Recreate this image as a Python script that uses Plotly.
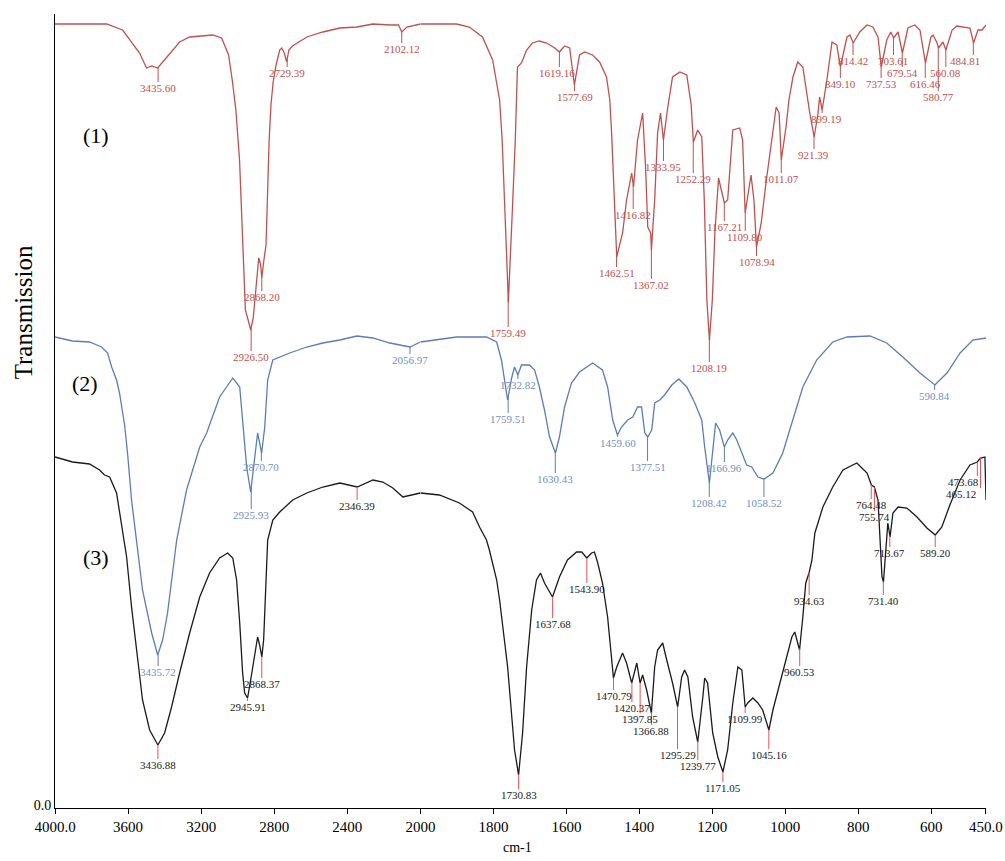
import numpy as np
import plotly.graph_objects as go

# ---------------- data (wavenumber cm-1, transmission in arbitrary units) ----------------
wn1 = [4000, 3718, 3630, 3537, 3499, 3471, 3438, 3389, 3318, 3263, 3137, 3088, 3050, 3030, 3010,
       2990, 2975, 2958, 2940, 2929, 2915, 2900, 2885, 2875, 2868, 2858, 2845, 2836, 2828, 2818,
       2806, 2790, 2770, 2759, 2745, 2732, 2720, 2700, 2622, 2534, 2441, 2348, 2260, 2167, 2120,
       2102, 2074, 2000, 1901, 1866, 1830, 1802, 1783, 1776, 1768, 1764, 1759, 1754, 1748, 1740,
       1734, 1723, 1709, 1693, 1674, 1654, 1632, 1619, 1605, 1591, 1578, 1564, 1550, 1528, 1509,
       1490, 1481, 1476, 1470, 1462, 1446, 1435, 1421, 1416, 1405, 1391, 1383, 1377, 1369, 1367,
       1358, 1350, 1342, 1334, 1322, 1316, 1309, 1289, 1270, 1258, 1252, 1240, 1229, 1222, 1215,
       1208, 1200, 1193, 1183, 1167, 1158, 1144, 1125, 1117, 1110, 1094, 1086, 1079, 1066, 1053,
       1045, 1025, 1017, 1011, 998, 990, 979, 966, 952, 933, 921, 911, 906, 899, 886,
       872, 859, 849, 831, 823, 814, 796, 776, 760, 746, 737, 722, 711, 703, 691,
       679, 664, 645, 631, 616, 601, 595, 584, 580, 568, 560, 543, 530, 502, 494,
       484, 472, 461, 450]
t1 = [781, 781, 775, 752, 737, 739, 737, 748, 763, 768, 770, 767, 750, 725, 695,
      645, 565, 495, 483, 475, 487, 515, 547, 541, 527, 543, 560, 615, 665, 700,
      723, 740, 755, 757, 752, 743, 755, 759, 768, 773, 777, 778, 781, 780, 780,
      773, 778, 781, 781, 778, 768, 745, 705, 665, 600, 552, 503, 540, 595, 665,
      738, 742, 755, 762, 764, 762, 757, 753, 759, 757, 720, 750, 753, 750, 743,
      728, 705, 672, 625, 548, 572, 605, 632, 618, 665, 692, 638, 578, 572, 555,
      605, 672, 692, 665, 698, 712, 728, 733, 730, 700, 663, 675, 668, 605, 505,
      465, 505, 572, 627, 602, 605, 675, 677, 665, 592, 630, 605, 558, 582, 622,
      645, 698, 692, 645, 678, 705, 728, 743, 738, 692, 668, 690, 708, 695, 725,
      763, 760, 738, 768, 770, 762, 773, 780, 778, 768, 738, 765, 773, 767, 773,
      752, 777, 780, 775, 742, 768, 770, 762, 757, 763, 755, 775, 779, 778, 777,
      762, 775, 775, 780]

wn2 = [4000, 3904, 3811, 3745, 3712, 3690, 3663, 3647, 3619, 3603, 3581, 3553, 3521, 3471, 3438,
       3411, 3384, 3334, 3280, 3208, 3170, 3099, 3027, 2989, 2973, 2951, 2929, 2907, 2891, 2869,
       2852, 2836, 2808, 2715, 2622, 2534, 2441, 2348, 2260, 2167, 2058, 2000, 1901, 1819, 1791,
       1778, 1770, 1761, 1750, 1742, 1733, 1723, 1701, 1687, 1674, 1660, 1646, 1630, 1619, 1605,
       1586, 1564, 1528, 1501, 1487, 1473, 1460, 1449, 1432, 1418, 1405, 1394, 1385, 1377, 1366,
       1358, 1344, 1331, 1311, 1292, 1270, 1248, 1229, 1221, 1208, 1199, 1191, 1180, 1167, 1158,
       1144, 1133, 1119, 1106, 1092, 1075, 1058, 1034, 1007, 979, 952, 914, 870, 831, 768,
       722, 678, 631, 590, 557, 521, 486, 458, 450]
t2 = [468, 464, 463, 458, 452, 438, 425, 412, 380, 352, 305, 265, 215, 172, 150,
      165, 192, 265, 315, 358, 372, 408, 427, 418, 385, 338, 313, 345, 372, 352,
      378, 425, 445, 452, 458, 462, 465, 469, 467, 462, 458, 463, 468, 468, 463,
      445, 425, 405, 427, 438, 430, 440, 440, 435, 418, 395, 368, 352, 368, 398,
      422, 433, 442, 435, 418, 385, 370, 378, 385, 388, 398, 398, 372, 368, 375,
      402, 405, 410, 420, 426, 418, 402, 385, 358, 322, 358, 382, 375, 358, 365,
      372, 365, 352, 340, 338, 328, 326, 332, 352, 385, 418, 445, 463, 468, 469,
      462, 448, 432, 420, 432, 452, 465, 467, 467]

wn3 = [4000, 3904, 3811, 3756, 3729, 3701, 3663, 3636, 3608, 3581, 3553, 3521, 3482, 3437, 3400,
       3362, 3318, 3263, 3208, 3154, 3099, 3055, 3027, 3006, 2989, 2973, 2962, 2946, 2929, 2907,
       2891, 2880, 2868, 2858, 2847, 2836, 2808, 2770, 2699, 2622, 2534, 2441, 2346, 2260, 2206,
       2151, 2096, 2000, 1948, 1893, 1857, 1838, 1819, 1811, 1791, 1783, 1761, 1742, 1731, 1720,
       1709, 1695, 1682, 1671, 1660, 1638, 1619, 1597, 1572, 1558, 1544, 1531, 1523, 1514, 1501,
       1487, 1476, 1471, 1462, 1446, 1435, 1421, 1407, 1398, 1391, 1380, 1367, 1358, 1350, 1336,
       1325, 1309, 1295, 1284, 1276, 1267, 1254, 1240, 1226, 1221, 1213, 1199, 1185, 1171, 1158,
       1144, 1130, 1119, 1110, 1103, 1089, 1075, 1062, 1045, 1034, 1015, 996, 982, 974, 961,
       952, 944, 935, 927, 919, 897, 870, 842, 804, 776, 764, 756, 746, 741, 735,
       731, 724, 719, 713, 705, 691, 667, 639, 612, 589, 571, 549, 521, 494, 474,
       465, 453, 450]
t3 = [348, 343, 341, 335, 330, 328, 312, 282, 248, 198, 152, 105, 75, 60, 72,
      98, 132, 172, 208, 232, 247, 252, 247, 225, 182, 132, 112, 107, 125, 148,
      168, 160, 148, 165, 215, 265, 285, 293, 305, 312, 318, 322, 318, 325, 323,
      317, 308, 312, 310, 302, 293, 278, 265, 255, 225, 205, 138, 55, 30, 72,
      138, 195, 225, 232, 222, 208, 228, 245, 253, 253, 247, 252, 253, 242, 222,
      188, 142, 127, 138, 152, 142, 122, 142, 122, 130, 115, 92, 138, 155, 162,
      145, 122, 98, 128, 135, 128, 88, 63, 108, 127, 122, 72, 48, 33, 55,
      102, 138, 135, 98, 102, 107, 102, 95, 75, 95, 122, 148, 168, 173, 155,
      188, 222, 232, 245, 272, 298, 318, 335, 342, 332, 320, 318, 305, 272, 228,
      223, 255, 282, 268, 292, 298, 297, 288, 277, 270, 278, 300, 325, 340, 343,
      347, 348, 305]

# peak labels: wavenumber, label vertical position, horizontal nudge (px)
pk1 = [3435.60, 2926.50, 2868.20, 2729.39, 2102.12, 1759.49, 1619.16, 1577.69, 1462.51, 1416.82,
       1367.02, 1333.95, 1252.29, 1208.19, 1167.21, 1109.80, 1078.94, 1011.07, 921.39, 899.19,
       849.10, 814.42, 737.53, 703.61, 679.54, 616.46, 580.77, 560.08, 484.81]
lab1 = [717, 448, 508, 732, 756, 472, 732, 708, 532, 590,
        520, 638, 626, 437, 578, 568, 543, 626, 650, 686,
        721, 744, 721, 744, 732, 721, 708, 732, 744]
dx1 = [0, 0, 0, 0, 0, 0, -2, 0, 0, 0,
       0, 0, 0, 0, 0, 0, 0, 0, 0, 4,
       0, 0, 0, 0, 0, 0, 0, 0, -8]

pk2 = [3435.72, 2925.93, 2870.70, 2056.97, 1759.51, 1732.82, 1630.43, 1459.60, 1377.51, 1208.42,
       1166.96, 1058.52, 590.84]
lab2 = [133, 290, 338, 445, 386, 420, 326, 362, 338, 302, 337, 302, 409]
dx2 = [0] * 13

pk3 = [3436.88, 2945.91, 2868.37, 2346.39, 1730.83, 1637.68, 1543.90, 1470.79, 1420.37, 1397.85,
       1366.88, 1295.29, 1239.77, 1171.05, 1109.99, 1045.16, 960.53, 934.63, 764.48, 755.74,
       731.40, 713.67, 589.20, 473.68, 465.12]
lab3 = [40, 98, 121, 299, 10, 181, 216, 109, 97, 86,
        74, 50, 39, 17, 86, 50, 133, 204, 300, 288,
        204, 252, 252, 323, 311]
dx3 = [0] * 23 + [-14, -19]

xticks_left = [4000, 3600, 3200, 2800, 2400, 2000]
xticks_left_txt = ["4000.0", "3600", "3200", "2800", "2400", "2000"]
xticks_right = [1800, 1600, 1400, 1200, 1000, 800, 600, 450]
xticks_right_txt = ["1800", "1600", "1400", "1200", "1000", "800", "600", "450.0"]

RED = "#C0504D"
BLUE = "#5B7DB5"
BLUE_TXT = "#6F8FC4"
BLACK = "#1A1A1A"
TICK3 = "#E8505A"

SERIF = "Liberation Serif"
SPLIT = 2000

fig = go.Figure()


def add_series(wn, t, color):
    wn = np.asarray(wn, float)
    t = np.asarray(t, float)
    left = wn >= SPLIT
    right = wn <= SPLIT
    fig.add_trace(go.Scatter(x=wn[left], y=t[left], mode="lines", xaxis="x", yaxis="y",
                             line=dict(color=color, width=1.3), hoverinfo="skip"))
    fig.add_trace(go.Scatter(x=wn[right], y=t[right], mode="lines", xaxis="x2", yaxis="y",
                             line=dict(color=color, width=1.3), hoverinfo="skip"))


def add_peaks(wn, t, peaks, labs, dxs, tick_color, text_color):
    wn = np.asarray(wn, float)
    t = np.asarray(t, float)
    lx, ly, rx, ry = [], [], [], []
    for p, lab, dx in zip(peaks, labs, dxs):
        top = float(np.interp(p, wn[::-1], t[::-1]))
        bottom = lab + 6
        if top > bottom:
            if p >= SPLIT:
                lx += [p, p, None]; ly += [top, bottom, None]
            else:
                rx += [p, p, None]; ry += [top, bottom, None]
        fig.add_annotation(x=p, y=lab, xref="x" if p >= SPLIT else "x2", yref="y",
                           text=f"{p:.2f}", showarrow=False, xshift=dx,
                           font=dict(family=SERIF, size=11, color=text_color))
    if lx:
        fig.add_trace(go.Scatter(x=lx, y=ly, mode="lines", xaxis="x", yaxis="y",
                                 line=dict(color=tick_color, width=1), hoverinfo="skip"))
    if rx:
        fig.add_trace(go.Scatter(x=rx, y=ry, mode="lines", xaxis="x2", yaxis="y",
                                 line=dict(color=tick_color, width=1), hoverinfo="skip"))


add_series(wn1, t1, RED)
add_series(wn2, t2, BLUE)
add_series(wn3, t3, BLACK)
add_peaks(wn1, t1, pk1, lab1, dx1, RED, RED)
add_peaks(wn2, t2, pk2, lab2, dx2, BLUE, BLUE_TXT)
add_peaks(wn3, t3, pk3, lab3, dx3, TICK3, BLACK)

# series tags
for txt, x, y in [("(1)", 3773, 670), ("(2)", 3838, 422), ("(3)", 3773, 248)]:
    fig.add_annotation(x=x, y=y, xref="x", yref="y", text=txt, showarrow=False,
                       font=dict(family=SERIF, size=22, color="black"))

fig.add_annotation(x=-0.034, y=493, xref="paper", yref="y", text="Transmission",
                   textangle=-90, showarrow=False, xanchor="center", yanchor="middle",
                   font=dict(family=SERIF, size=25, color="black"))
fig.add_annotation(x=1734, y=-0.05, xref="x2", yref="paper", text="cm-1",
                   showarrow=False, xanchor="center", yanchor="middle",
                   font=dict(family=SERIF, size=14, color="black"))

D = 0.3925
axis_common = dict(showline=True, linecolor="black", linewidth=1, ticks="outside",
                   ticklen=5, tickcolor="black", showgrid=False, zeroline=False,
                   automargin=False,
                   tickfont=dict(family=SERIF, size=15, color="black"), anchor="y")
fig.update_layout(
    width=1005, height=861,
    margin=dict(l=55, r=19, t=14, b=53),
    paper_bgcolor="white", plot_bgcolor="white",
    showlegend=False,
    xaxis=dict(domain=[0, D], range=[4000, SPLIT], tickmode="array",
               tickvals=xticks_left, ticktext=xticks_left_txt, **axis_common),
    xaxis2=dict(domain=[D, 1], range=[SPLIT, 450], tickmode="array",
                tickvals=xticks_right, ticktext=xticks_right_txt, **axis_common),
    yaxis=dict(range=[-3, 791], tickmode="array", tickvals=[0], ticktext=["0.0"],
               showline=True, linecolor="black", linewidth=1, ticks="",
               showgrid=False, zeroline=False, automargin=False,
               tickfont=dict(family=SERIF, size=14, color="black")),
)

# remove the browser's default 8 px body margin so the figure fills the window exactly
fig.write_html("out.html",
               config={"displayModeBar": False},
               post_script="document.body.style.margin='0px';document.body.style.overflow='hidden';")
